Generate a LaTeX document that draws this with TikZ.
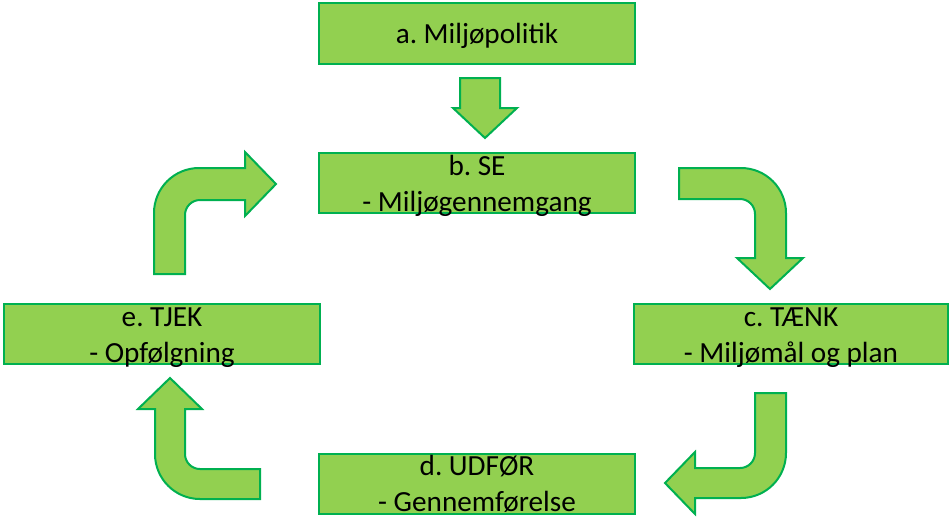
\documentclass[tikz,border=0pt]{standalone}
\usepackage{fontspec}
\setmainfont{Carlito}
\definecolor{boxfill}{HTML}{92D050}
\definecolor{boxline}{HTML}{00B050}

\begin{document}
\begin{tikzpicture}[x=0.5pt,y=-0.5pt,
					line width=1pt,
					box/.style={rectangle,draw=boxline,fill=boxfill,inner sep=0pt,
						minimum width=158pt,minimum height=30pt,align=center,
						text height=29pt,text depth=1pt,
						font=\fontsize{14.6pt}{18pt}\selectfont\frenchspacing},
					blockarrow/.style={draw=boxline,fill=boxfill,line join=miter}]

  \useasboundingbox (0,0) rectangle (949,516);

  \node[box,minimum height=30.5pt,text height=20pt,text depth=10.5pt] (pol) at (477,33.5) {a. Miljøpolitik};
  \node[box] (se)   at (477,183) {b. SE\\- Miljøgennemgang};
  \node[box,minimum width=157pt] (taenk) at (791,334) {c. TÆNK\\- Miljømål og plan};
  \node[box] (udfor) at (477,483.5) {d. UDFØR\\- Gennemførelse};
  \node[box] (tjek) at (162,334) {e. TJEK\\- Opfølgning};

  % a -> b
  \draw[blockarrow] (460,78) -- (500,78) -- (500,108) -- (517,108) -- (485,138)
    -- (453,108) -- (460,108) -- cycle;
  % b -> c
  \draw[blockarrow] (679,168) -- (741,168) arc[start angle=90,end angle=0,radius=22.5pt]
    -- (786,258) -- (803,258) -- (770,289) -- (737,258) -- (755,258) -- (755,214)
    arc[start angle=0,end angle=90,radius=7.5pt] -- (679,199) -- cycle;
  % c -> d
  \draw[blockarrow] (755,393) -- (786,393) -- (786,453) arc[start angle=0,end angle=-90,radius=22.5pt]
    -- (695,498) -- (695,514) -- (665,483) -- (695,452) -- (695,468) -- (740,468)
    arc[start angle=-90,end angle=0,radius=7.5pt] -- cycle;
  % d -> e
  \draw[blockarrow] (260,469) -- (200,469) arc[start angle=270,end angle=180,radius=7.5pt]
    -- (185,409) -- (202,409) -- (170,378) -- (138,409) -- (155,409) -- (155,454)
    arc[start angle=180,end angle=270,radius=22.5pt] -- (260,499) -- cycle;
  % e -> b
  \draw[blockarrow] (154,274) -- (154,213) arc[start angle=180,end angle=90,radius=22.5pt]
    -- (245,168) -- (245,152) -- (276,184) -- (245,216) -- (245,200) -- (200,200)
    arc[start angle=90,end angle=180,radius=7.5pt] -- (185,274) -- cycle;
\end{tikzpicture}
\end{document}
